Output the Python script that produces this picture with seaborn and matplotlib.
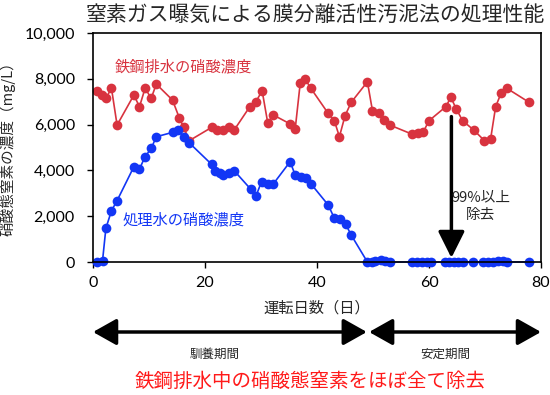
import numpy as np
import pandas as pd
import matplotlib
matplotlib.use("Agg")
import matplotlib.pyplot as plt
import seaborn as sns

# ---- data ----
day_raw = [0.7, 1.6, 2.3, 3.3, 4.3, 7.3, 8.3, 9.3, 10.4, 11.3, 14.2, 15.4, 16.2, 17.2,
           21.2, 22.1, 23.2, 24.2, 25.2, 28.0, 29.1, 30.2, 31.2, 32.2, 35.2, 36.1, 37.0,
           37.9, 38.9, 42.0, 43.1, 44.0, 45.0, 46.1, 49.0, 49.9, 51.1, 52.0, 53.0, 56.9,
           58.0, 59.0, 60.0, 63.0, 63.9, 64.9, 66.0, 68.0, 69.9, 71.0, 71.9, 72.9, 73.9, 77.9]
nitrate_raw = [7480, 7290, 7150, 7585, 5980, 7290, 6780, 7585, 7150, 7770, 7070, 6300, 5880, 5300,
               5880, 5760, 5760, 5910, 5760, 6780, 7000, 7480, 6080, 6420, 6030, 5790, 7800,
               7980, 7585, 6490, 6170, 5470, 6380, 6970, 7870, 6610, 6490, 6200, 5980, 5590,
               5650, 5690, 6170, 6780, 7190, 6670, 6170, 5760, 5300, 5370, 6780, 7390, 7585, 6970]

day_treated = [0.7, 1.7, 2.3, 3.3, 4.3, 7.3, 8.3, 9.3, 10.4, 11.3, 14.2, 15.2, 16.2, 17.2,
               21.2, 21.8, 22.6, 23.3, 24.2, 25.2, 28.2, 29.1, 30.1, 31.2, 32.2, 35.2, 36.1,
               37.1, 38.0, 39.0, 42.0, 43.1, 44.1, 45.1, 46.1, 49.0, 49.8, 50.4, 51.4, 52.1,
               53.0, 56.9, 57.8, 58.7, 59.6, 60.3, 62.9, 63.6, 64.5, 65.2, 66.1, 67.9, 69.7,
               70.6, 71.5, 72.4, 73.2, 73.9, 77.9]
nitrate_treated = [0, 50, 1470, 2240, 2680, 4160, 4060, 4600, 4960, 5470, 5660, 5760, 5470, 5200,
                   4260, 3990, 3870, 3800, 3900, 3990, 3170, 2880, 3510, 3410, 3410, 4380, 3800,
                   3700, 3660, 3390, 2490, 1910, 1860, 1660, 1180, 0, 0, 60, 100, 40,
                   0, 0, 0, 0, 0, 0, 0, 0, 0, 0, 0, 0, 0,
                   0, 20, 40, 60, 0, 0]

yticks = [0, 2000, 4000, 6000, 8000, 10000]
xticks = [0, 20, 40, 60, 80]

RED = "#d8333f"
BLUE = "#1236f5"

sns.set_theme(style="ticks")
plt.rcParams['font.family'] = ['Noto Sans CJK JP', 'DejaVu Sans']

fig = plt.figure(figsize=(5.5, 3.95), dpi=100)
ax = fig.add_axes([93/550, 1-262/395, (541-93)/550, (262-33)/395])

df_raw = pd.DataFrame({"day": day_raw, "val": nitrate_raw})
df_tr = pd.DataFrame({"day": day_treated, "val": nitrate_treated})

sns.lineplot(data=df_raw, x="day", y="val", ax=ax, color=RED, marker="o",
             markersize=7, markeredgewidth=0, linewidth=1.2, clip_on=False)
sns.lineplot(data=df_tr, x="day", y="val", ax=ax, color=BLUE, marker="o",
             markersize=7, markeredgewidth=0, linewidth=1.2, clip_on=False)

ax.set_xlim(0, 80)
ax.set_ylim(0, 10000)
ax.set_xticks(xticks)
ax.set_yticks(yticks)
ax.set_yticklabels([f"{v:,}" for v in yticks])
ax.tick_params(labelsize=11.5, length=4, width=1, color="black", labelcolor="black")
ax.tick_params(axis="y", pad=9)
ax.tick_params(axis="x", pad=6)
for lab in ax.get_xticklabels() + ax.get_yticklabels():
    lab.set_fontfamily(["Lato", "DejaVu Sans"])
for s in ax.spines.values():
    s.set_visible(True)
    s.set_linewidth(1.2)
    s.set_color("black")

ax.set_xlabel("運転日数（日）", fontsize=11, labelpad=7)
ax.set_ylabel("硝酸態窒素の濃度（mg/L）", fontsize=10.5, labelpad=8)
ax.yaxis.set_label_coords(-0.172, 0.51)

fig.text(315/550, 1-15/395, "窒素ガス曝気による膜分離活性汚泥法の処理性能",
         fontsize=15, ha="center", va="center")

ax.text(3.9, 8500, "鉄鋼排水の硝酸濃度", color=RED, fontsize=11, va="center", ha="left")
ax.text(5.3, 1850, "処理水の硝酸濃度", color=BLUE, fontsize=11, va="center", ha="left")

# 99% removal arrow
ax.annotate("", xy=(64.0, 180), xytext=(64.0, 6350),
            arrowprops=dict(arrowstyle="-|>,head_length=0.9,head_width=0.45",
                            mutation_scale=18, lw=2.5, color="black",
                            shrinkA=0, shrinkB=0))
ax.text(69.2, 2450, "99%以上\n除去", fontsize=10.5, ha="center", va="center",
        linespacing=1.3)

# period arrows below the axis
yarrow = 1 - 332/395
for x0, x1 in [(0, 48.9), (49.3, 80)]:
    ax.annotate("", xy=(x1, yarrow), xytext=(x0, yarrow),
                xycoords=("data", "figure fraction"),
                textcoords=("data", "figure fraction"),
                arrowprops=dict(arrowstyle="<|-|>,head_length=0.8,head_width=0.45",
                                mutation_scale=18, lw=2.5, color="black",
                                shrinkA=0, shrinkB=0),
                annotation_clip=False)
fig.text(215/550, 1-354/395, "馴養期間", fontsize=9, ha="center", va="center")
fig.text(445/550, 1-354/395, "安定期間", fontsize=9, ha="center", va="center")

fig.text(310/550, 1-381/395, "鉄鋼排水中の硝酸態窒素をほぼ全て除去",
         fontsize=14, ha="center", va="center", color="#ff1a1a")

fig.savefig("out.png", dpi=100)
